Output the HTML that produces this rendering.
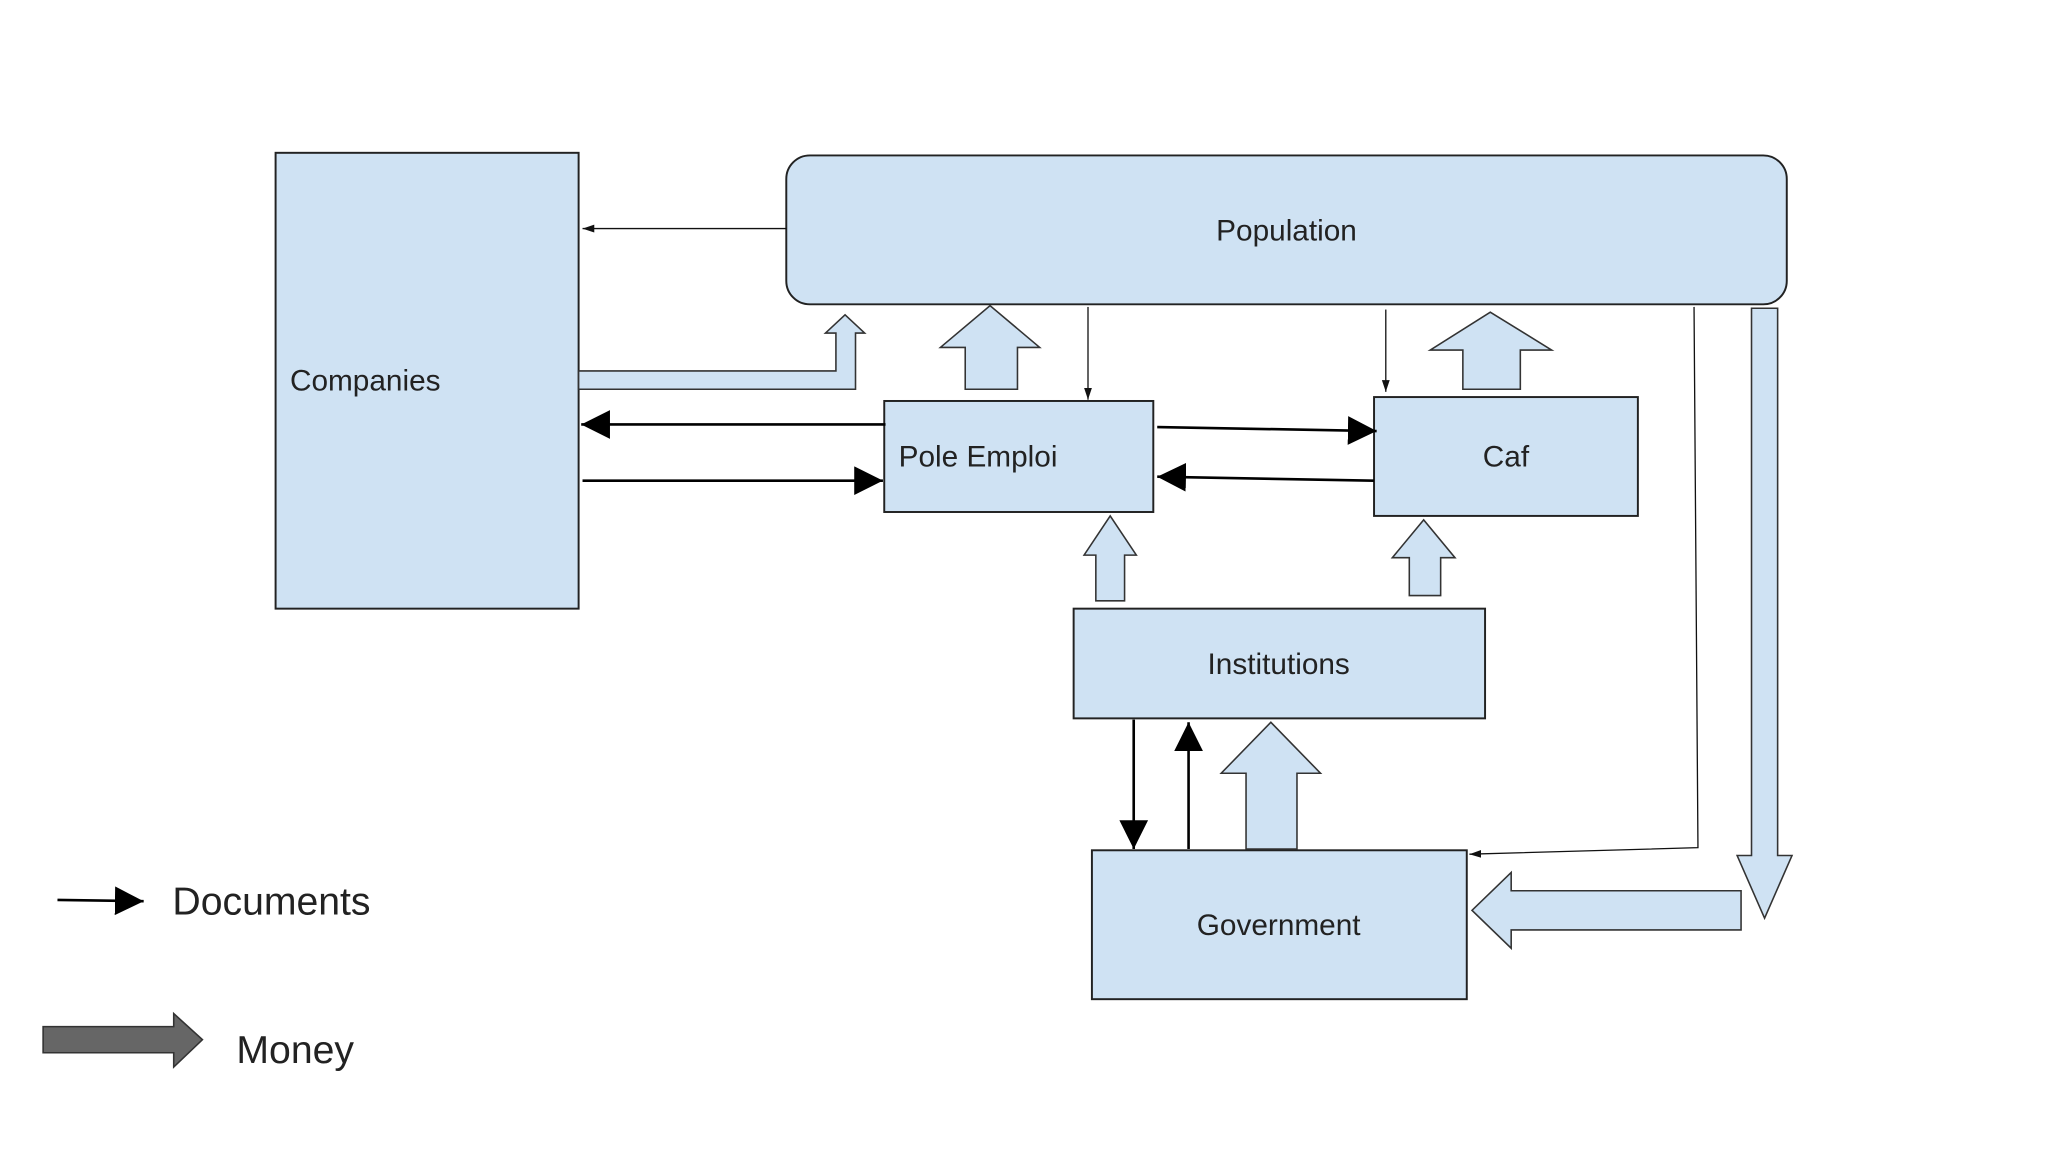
<!DOCTYPE html>
<html><head><meta charset="utf-8"><style>
html,body{margin:0;padding:0;background:#fff;}
svg{display:block;}
text{font-family:"Liberation Sans",sans-serif;fill:#222;}
</style></head><body>
<svg width="2048" height="1152" viewBox="0 0 1568 882" xmlns="http://www.w3.org/2000/svg">
<defs>
<marker id="ah" markerWidth="10" markerHeight="10" refX="9" refY="5" orient="auto" markerUnits="userSpaceOnUse"><path d="M0,2 L9,5 L0,8z" fill="#111"/></marker>
<marker id="AH" markerWidth="24" markerHeight="22" refX="22" refY="11" orient="auto" markerUnits="userSpaceOnUse"><path d="M0,0 L22,11 L0,22z" fill="#000"/></marker>
</defs>
<g fill="#cfe2f3" stroke="#222" stroke-width="1.5">
<rect x="211" y="117" width="232" height="349"/>
<rect x="602" y="119" width="766" height="114" rx="18"/>
<rect x="677" y="307" width="206" height="85"/>
<rect x="1052" y="304" width="202" height="91"/>
<rect x="822" y="466" width="315" height="84"/>
<rect x="836" y="651" width="287" height="114"/>
</g>
<g font-size="22.8" text-anchor="middle">
<text x="985" y="184">Population</text>
<text x="222" y="299" text-anchor="start">Companies</text>
<text x="688" y="357" text-anchor="start">Pole Emploi</text>
<text x="1153" y="357">Caf</text>
<text x="979" y="516">Institutions</text>
<text x="979" y="716">Government</text>
</g>
<g fill="#cfe2f3" stroke="#333" stroke-width="1.2">
<path d="M443,284 L640,284 L640,255 L632,255 L647,241 L662,255 L655,255 L655,298 L443,298z"/>
<path d="M739,298 L739,266 L720,266 L758,234 L796,266 L779,266 L779,298z"/>
<path d="M1120,298 L1120,268 L1095,268 L1141,239 L1188,268 L1164,268 L1164,298z"/>
<path d="M839,460 L839,425 L830,425 L850,395 L870,425 L861,425 L861,460z"/>
<path d="M1079,456 L1079,427 L1066,427 L1090,398 L1114,427 L1103,427 L1103,456z"/>
<path d="M954,650 L954,592 L935,592 L973,553 L1011,592 L993,592 L993,650z"/>
<path d="M1341,236 L1361,236 L1361,655 L1372,655 L1351,703 L1330,655 L1341,655z"/>
<path d="M1333,682 L1157,682 L1157,668 L1127,697 L1157,726 L1157,712 L1333,712z"/>
</g>
<g stroke="#111" stroke-width="1" fill="none" marker-end="url(#ah)">
<line x1="602" y1="175" x2="446" y2="175"/>
<line x1="833" y1="235" x2="833" y2="306"/>
<line x1="1061" y1="237" x2="1061" y2="300"/>
<polyline points="1297,235 1300,649 1125,654"/>
</g>
<g stroke="#000" stroke-width="2" fill="none" marker-end="url(#AH)">
<line x1="678" y1="325" x2="445" y2="325"/>
<line x1="446" y1="368" x2="676" y2="368"/>
<line x1="886" y1="327" x2="1054" y2="330"/>
<line x1="1052" y1="368" x2="886" y2="365"/>
<line x1="868" y1="551" x2="868" y2="650"/>
<line x1="910" y1="650" x2="910" y2="553"/>
<line x1="44" y1="689" x2="110" y2="690"/>
</g>
<path d="M33,786 L133,786 L133,776 L155,796 L133,817 L133,806 L33,806z" fill="#666" stroke="#333" stroke-width="1.2"/>
<text x="132" y="700" font-size="30">Documents</text>
<text x="181" y="814" font-size="30">Money</text>
</svg>
</body></html>
